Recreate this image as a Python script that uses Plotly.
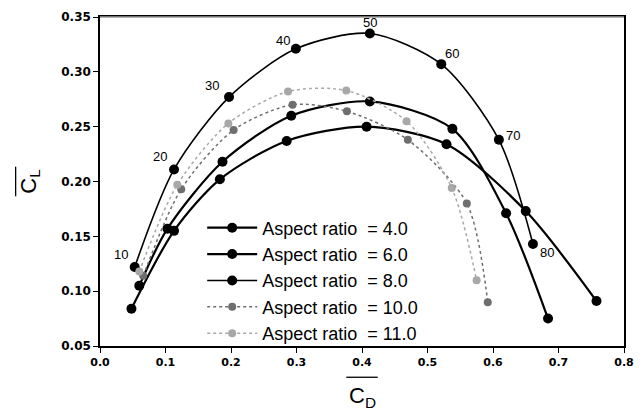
import plotly.graph_objects as go

# Data
ar4_cd = [0.048, 0.113, 0.183, 0.285, 0.407, 0.529, 0.650, 0.758]
ar4_cl = [0.084, 0.155, 0.202, 0.237, 0.250, 0.234, 0.173, 0.091]

ar6_cd = [0.060, 0.103, 0.187, 0.292, 0.412, 0.538, 0.620, 0.684]
ar6_cl = [0.105, 0.157, 0.218, 0.260, 0.273, 0.248, 0.171, 0.075]

ar8_cd = [0.053, 0.113, 0.197, 0.299, 0.412, 0.521, 0.609, 0.661]
ar8_cl = [0.122, 0.211, 0.277, 0.321, 0.335, 0.307, 0.238, 0.143]
ar8_labels = ["10", "20", "30", "40", "50", "60", "70", "80"]

ar10_cd = [0.066, 0.124, 0.204, 0.294, 0.377, 0.470, 0.560, 0.592]
ar10_cl = [0.114, 0.193, 0.247, 0.270, 0.264, 0.238, 0.180, 0.090]

ar11_cd = [0.060, 0.118, 0.196, 0.287, 0.376, 0.468, 0.537, 0.575]
ar11_cl = [0.118, 0.197, 0.253, 0.282, 0.283, 0.255, 0.194, 0.110]

legend_names = ["Aspect ratio\u00a0\u00a0= 4.0", "Aspect ratio\u00a0\u00a0= 6.0",
                "Aspect ratio\u00a0\u00a0= 8.0", "Aspect ratio\u00a0\u00a0= 10.0",
                "Aspect ratio\u00a0\u00a0= 11.0"]

fig = go.Figure()

series = [
    (ar4_cd, ar4_cl, "black", "solid", 2.2, 10),
    (ar6_cd, ar6_cl, "black", "solid", 2.2, 10),
    (ar8_cd, ar8_cl, "black", "solid", 1.6, 10),
    (ar10_cd, ar10_cl, "#6e6e6e", "dot", 1.5, 8),
    (ar11_cd, ar11_cl, "#a8a8a8", "dot", 1.5, 8),
]
for (xs, ys, col, dash, lw, ms), name in zip(series, legend_names):
    fig.add_trace(go.Scatter(
        x=xs, y=ys, name=name, mode="lines+markers",
        line=dict(color=col, dash=dash, width=lw, shape="spline", smoothing=0.8),
        marker=dict(color=col, size=ms, symbol="circle"),
    ))

offsets = [(-14, 13), (-14, 13), (-17, 12), (-13, 8), (0, 11), (11, 11), (14, 4), (14, -8)]
for x, y, t, (dx, dy) in zip(ar8_cd, ar8_cl, ar8_labels, offsets):
    fig.add_annotation(x=x, y=y, text=t, showarrow=False, xshift=dx, yshift=dy,
                       font=dict(family="Arial", size=13, color="black"))

# Axis titles with overlines
fig.add_annotation(xref="paper", yref="paper", x=0.5, y=-0.105, yanchor="top",
                   text="C<sub>D</sub>", showarrow=False,
                   font=dict(family="Arial", size=22, color="black"))
fig.add_shape(type="line", xref="paper", yref="paper", x0=0.47, x1=0.53,
              y0=-0.095, y1=-0.095, line=dict(color="black", width=1.3))
fig.add_annotation(xref="paper", yref="paper", x=-0.135, y=0.5, xanchor="center",
                   text="C<sub>L</sub>", textangle=-90, showarrow=False,
                   font=dict(family="Arial", size=22, color="black"))
fig.add_shape(type="line", xref="paper", yref="paper", x0=-0.161, x1=-0.161,
              y0=0.455, y1=0.545, line=dict(color="black", width=1.3))

# thin gray top border (as in reference)
fig.add_shape(type="line", xref="paper", yref="paper", x0=0, x1=1, y0=1, y1=1,
              line=dict(color="#9a9a9a", width=1.5))

fig.update_layout(
    width=644, height=412,
    margin=dict(l=100, r=15, t=10, b=66),
    paper_bgcolor="white", plot_bgcolor="white",
    showlegend=True,
    legend=dict(x=0.195, y=0.415, xanchor="left", yanchor="top",
                bgcolor="rgba(0,0,0,0)", font=dict(family="Arial", size=18, color="black"),
                tracegroupgap=0, itemwidth=50),
    font=dict(family="Arial", color="black"),
)
fig.update_xaxes(range=[0.0, 0.8], dtick=0.1, tickformat=".1f", showgrid=False, zeroline=False,
                 showline=True, linecolor="black", linewidth=1.5, mirror=True,
                 ticks="outside", ticklen=5, tickcolor="black",
                 tickfont=dict(family="DejaVu Sans", size=11, weight="bold"))
fig.update_yaxes(range=[0.05, 0.35], dtick=0.05, tickformat=".2f", showgrid=False, zeroline=False,
                 showline=True, linecolor="black", linewidth=1.5, mirror=True,
                 ticks="outside", ticklen=5, tickcolor="black",
                 tickfont=dict(family="DejaVu Sans", size=12, weight="bold"))

fig.write_html("out.html")
